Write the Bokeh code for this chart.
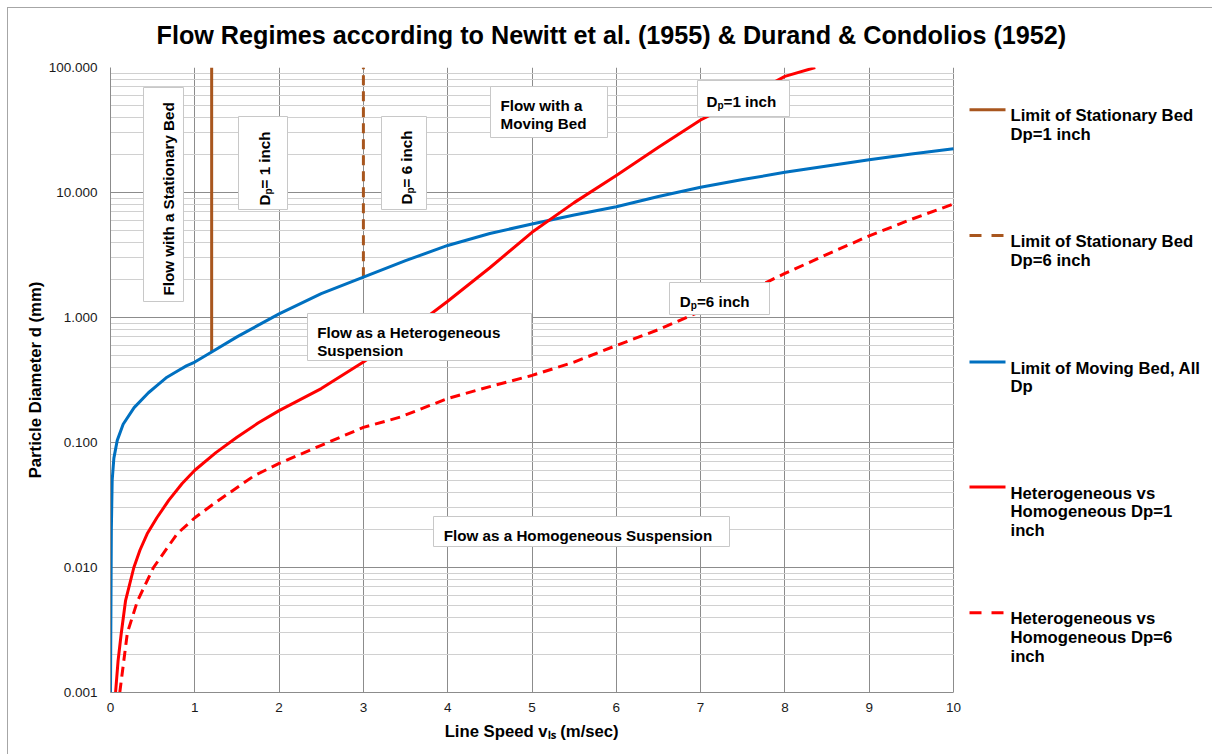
import math
from bokeh.plotting import figure
from bokeh.models import FixedTicker, PrintfTickFormatter, Label, BoxAnnotation, Arrow
from bokeh.embed import file_html
from bokeh.resources import INLINE

# ---------------- data ----------------
stat1_x = [1.2, 1.2]
stat1_y = [0.54, 100.0]
stat6_x = [3.0, 3.0]
stat6_y = [2.1, 100.0]

moving_x = [0.0, 0.01, 0.02, 0.04, 0.08, 0.15, 0.28, 0.45, 0.55, 0.67, 0.8, 0.9, 1.0, 1.2, 1.5, 2.0, 2.5,
            3.0, 3.5, 4.0, 4.5, 5.0, 5.5, 6.0, 6.5, 7.0, 7.5, 8.0, 8.5, 9.0, 9.5, 10.0]
moving_y = [0.001, 0.02, 0.05, 0.075, 0.104, 0.14, 0.19, 0.25, 0.285, 0.333, 0.375, 0.41, 0.44, 0.53, 0.70, 1.07, 1.55,
            2.1, 2.85, 3.77, 4.7, 5.6, 6.6, 7.7, 9.3, 11.0, 12.7, 14.5, 16.3, 18.3, 20.3, 22.4]

het1_x = [0.06, 0.09, 0.127, 0.178, 0.277, 0.35, 0.435, 0.55, 0.69, 0.85, 1.0, 1.25, 1.5, 1.75, 2.0, 2.5, 3.0,
          3.5, 4.0, 4.5, 5.0, 5.5, 6.0, 6.5, 7.0, 7.5, 8.0, 8.36]
het1_y = [0.001, 0.0018, 0.00295, 0.0054, 0.01, 0.0138, 0.0186, 0.025, 0.0344, 0.047, 0.06, 0.083, 0.11, 0.143, 0.18,
          0.27, 0.44, 0.75, 1.35, 2.5, 4.8, 8.3, 13.7, 23.0, 38.0, 56.0, 85.0, 100.0]

het6_x = [0.11, 0.2, 0.32, 0.51, 0.79, 1.0, 1.28, 1.7, 2.0, 2.5, 3.0, 3.44, 4.0, 4.5, 5.0,
          5.5, 6.0, 6.5, 7.0, 7.5, 8.0, 8.5, 9.0, 9.5, 10.0]
het6_y = [0.001, 0.003, 0.0054, 0.01, 0.0186, 0.025, 0.0344, 0.054, 0.068, 0.095, 0.132, 0.16, 0.225, 0.28, 0.344,
          0.44, 0.597, 0.80, 1.12, 1.55, 2.25, 3.2, 4.5, 6.1, 8.1]

x_ticks = [0, 1, 2, 3, 4, 5, 6, 7, 8, 9, 10]
y_ticks = [0.001, 0.01, 0.1, 1.0, 10.0, 100.0]
y_minor = [k * 10.0 ** e for e in range(-3, 2) for k in range(2, 10)]

legend_entries = [
    ("stat1", ["Limit of Stationary Bed", "Dp=1 inch"]),
    ("stat6", ["Limit of Stationary Bed", "Dp=6 inch"]),
    ("moving", ["Limit of Moving Bed, All", "Dp"]),
    ("het1", ["Heterogeneous vs", "Homogeneous Dp=1", "inch"]),
    ("het6", ["Heterogeneous vs", "Homogeneous Dp=6", "inch"]),
]

TITLE = "Flow Regimes according to Newitt et al. (1955) & Durand & Condolios (1952)"
X_LABEL = "Line Speed v\u2097\u209b (m/sec)"
Y_LABEL = "Particle Diameter d (mm)"

# ---------------- styling ----------------
FONT = "Liberation Sans"
BROWN = "#A8561E"
BLUE = "#0070C0"
RED = "#FF0000"
DASH = "10 6"
styles_map = {
    "stat1": (BROWN, "solid"),
    "stat6": (BROWN, DASH),
    "moving": (BLUE, "solid"),
    "het1": (RED, "solid"),
    "het6": (RED, DASH),
}

W, H = 1212, 754
FX0, FX10, FY0, FY1 = 110, 953, 67, 692   # pixel positions of x=0, x=10, y=100, y=0.001
ML, MT, MB = FX0, FY0, H - FY1
X_END = (W - FX0) * 10.0 / (FX10 - FX0)
XR = (0.0, X_END)
YR = (0.001, 100.0)


def dx(px):
    return (px - FX0) / (FX10 - FX0) * 10.0


def dy(py):
    return 10 ** (2.0 - (py - FY0) / (FY1 - FY0) * 5.0)


p = figure(width=W, height=H, x_range=XR, y_range=YR, y_axis_type="log",
           output_backend="svg", toolbar_location=None,
           min_border_left=ML, min_border_right=0, min_border_top=MT, min_border_bottom=MB)
p.styles = {"box-shadow": "inset 7px 7px 0 0 #ffffff, inset 8px 8px 0 0 #a6a6a6"}
p.background_fill_color = "white"
p.border_fill_color = None
p.outline_line_color = None

# title
p.title.text = TITLE
p.title.align = "left"
p.title.offset = 46
p.title.vertical_align = "middle"
p.title.standoff = 36
p.title.text_font = FONT
p.title.text_font_size = "25.2px"
p.title.text_font_style = "bold"
p.title.text_color = "black"

xt = FixedTicker(ticks=x_ticks, minor_ticks=[])
yt = FixedTicker(ticks=y_ticks, minor_ticks=y_minor)
p.xaxis.ticker = xt
p.yaxis.ticker = yt
p.xgrid.ticker = xt
p.ygrid.ticker = yt
p.yaxis.formatter = PrintfTickFormatter(format="%.3f")
p.xaxis.bounds = (0, 10)
p.yaxis.bounds = YR

for ax in (p.xaxis, p.yaxis):
    ax.major_tick_in = 0
    ax.major_tick_out = 0
    ax.minor_tick_in = 0
    ax.minor_tick_out = 0
    ax.axis_line_color = "#8c8c8c"
    ax.major_label_text_font = FONT
    ax.major_label_text_font_size = "13.5px"
    ax.major_label_text_color = "#1a1a1a"
    ax.axis_label_text_font = FONT
    ax.axis_label_text_font_size = "16.7px"
    ax.axis_label_text_font_style = "bold"
    ax.axis_label_text_color = "black"
p.yaxis.major_label_standoff = 13
p.xaxis.major_label_standoff = 10
p.yaxis.axis_label = Y_LABEL
p.yaxis.axis_label_standoff = 1
# the axis label is centred on the whole bottom panel (which also spans the legend zone);
# trailing no-break spaces move the visible text back under the 0..10 scale
p.xaxis.axis_label = X_LABEL + "\u00a0" * 56
p.xaxis.axis_label_standoff = 7

p.xgrid.grid_line_color = "#8c8c8c"
p.ygrid.grid_line_color = "#8c8c8c"
p.ygrid.minor_grid_line_color = "#d0d0d0"

# ---------------- series ----------------
series = {
    "stat1": (stat1_x, stat1_y),
    "stat6": (stat6_x, stat6_y),
    "moving": (moving_x, moving_y),
    "het1": (het1_x, het1_y),
    "het6": (het6_x, het6_y),
}
for key in ["stat1", "stat6", "moving", "het1", "het6"]:
    xs, ys = series[key]
    col, dash = styles_map[key]
    p.line(xs, ys, line_color=col, line_width=3, line_dash=dash, line_join="round")

# white area to the right of the plot area (legend zone)
p.add_layout(BoxAnnotation(left=dx(953.6), right=X_END, bottom=YR[0], top=YR[1],
                           fill_color="white", fill_alpha=1.0, line_color=None))


# ---------------- annotation helpers ----------------
def label(px, py, text, size, angle=0.0, align="left", baseline="alphabetic", bold=True, color="black"):
    p.add_layout(Label(x=dx(px), y=dy(py), text=text, text_font=FONT,
                       text_font_size=f"{size}px",
                       text_font_style="bold" if bold else "normal",
                       text_align=align, text_baseline=baseline, angle=angle,
                       text_color=color))


def box(px0, py0, px1, py1):
    p.add_layout(BoxAnnotation(left=dx(px0), right=dx(px1), top=dy(py0), bottom=dy(py1),
                               fill_color="white", fill_alpha=1.0,
                               line_color="#c8c8c8", line_alpha=1.0, line_width=1))


FS = 15.2
SUB = 10
D_ADV = 0.722 * FS
P_ADV = 0.611 * SUB

# Flow with a Stationary Bed (rotated)
box(143, 87, 183, 301)
label(168.3, 295, "Flow with a Stationary Bed", FS, angle=math.pi / 2)


def rot_dp(bx, start_y, rest):
    label(bx, start_y, "D", FS, angle=math.pi / 2)
    label(bx + 3.5, start_y - D_ADV, "p", SUB, angle=math.pi / 2)
    label(bx, start_y - D_ADV - P_ADV, rest, FS, angle=math.pi / 2)


box(238, 116, 287, 209)
rot_dp(264, 205, "= 1 inch")
box(381, 116, 426, 209)
rot_dp(406, 204, "= 6 inch")


def hor_dp(lx, by, rest):
    label(lx, by, "D", FS)
    label(lx + D_ADV, by + 3.5, "p", SUB)
    label(lx + D_ADV + P_ADV, by, rest, FS)


box(490, 86, 607, 137)
label(500, 105, "Flow with a", FS)
label(500, 123.3, "Moving Bed", FS)

box(697, 80, 789, 116)
hor_dp(706, 101, "=1 inch")

box(669, 282, 769, 314)
hor_dp(679.3, 301, "=6 inch")

box(307, 313, 531, 360)
label(316.7, 331.7, "Flow as a Heterogeneous", FS)
label(316.7, 350, "Suspension", FS)

box(433, 516, 729, 546)
label(443.3, 535, "Flow as a Homogeneous Suspension", FS)

# ---------------- legend ----------------
LEG_SAMPLE_Y = [109.3, 235, 361.5, 486.5, 612.3]
for (key, lines), sy in zip(legend_entries, LEG_SAMPLE_Y):
    col, dash = styles_map[key]
    p.add_layout(Arrow(x_start=dx(969), y_start=dy(sy), x_end=dx(1005), y_end=dy(sy),
                       start=None, end=None, line_color=col, line_width=3,
                       line_dash="12 10" if dash != "solid" else "solid"))
    for i, t in enumerate(lines):
        label(1010, sy + 6.0 + 18.7 * i, t, 16.7)

open("out.html", "w").write(file_html(p, INLINE))
